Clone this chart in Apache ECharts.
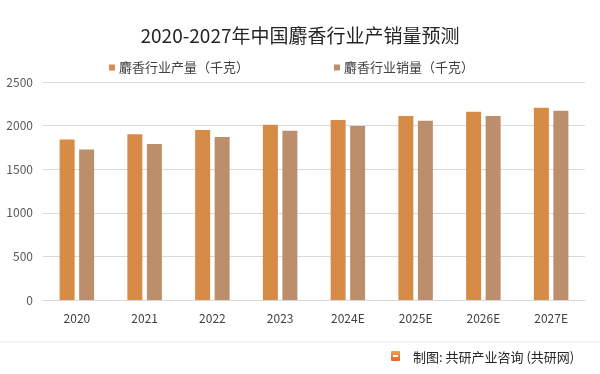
<!DOCTYPE html>
<html>
<head>
<meta charset="utf-8">
<script src="https://cdn.jsdelivr.net/npm/echarts@6/dist/echarts.min.js"></script>
<style>
html,body{margin:0;padding:0;background:#fff;}
#c{width:600px;height:374px;}
</style>
</head>
<body>
<div id="c"></div>
<script>
const categories = ['2020','2021','2022','2023','2024E','2025E','2026E','2027E'];
const production = [1840, 1900, 1950, 2010, 2065, 2110, 2160, 2205];
const sales = [1725, 1790, 1870, 1940, 1995, 2055, 2110, 2170];
const yTicks = [0, 500, 1000, 1500, 2000, 2500];
const seriesNames = ['麝香行业产量（千克）', '麝香行业销量（千克）'];

const font = "'Microsoft YaHei','Noto Sans CJK SC',sans-serif";
const chart = echarts.init(document.getElementById('c'), null, {renderer: 'canvas'});
chart.setOption({
  backgroundColor: '#ffffff',
  animation: false,
  title: {
    text: '2020-2027年中国麝香行业产销量预测',
    left: 'center',
    top: 21,
    textStyle: {fontSize: 19, fontWeight: 'normal', color: '#262626', fontFamily: font}
  },
  legend: {
    left: 104,
    top: 56,
    itemWidth: 6,
    itemHeight: 6,
    itemGap: 85,
    icon: 'rect',
    textStyle: {fontSize: 13, color: '#404040', fontFamily: font, padding: [0,0,0,-1]},
    data: seriesNames
  },
  grid: {left: 43, right: 15, top: 82, bottom: 74, containLabel: false},
  xAxis: {
    type: 'category',
    data: categories,
    axisLine: {lineStyle: {color: '#d9d9d9'}},
    axisTick: {show: false},
    axisLabel: {fontSize: 12, color: '#404040', margin: 12, fontFamily: font}
  },
  yAxis: {
    type: 'value',
    min: yTicks[0],
    max: yTicks[yTicks.length - 1],
    interval: yTicks[1] - yTicks[0],
    axisLine: {show: false},
    axisTick: {show: false},
    axisLabel: {fontSize: 12, color: '#595959', margin: 10, fontFamily: font, formatter: v => String(v)},
    splitLine: {lineStyle: {color: '#d9d9d9'}}
  },
  series: [
    {name: seriesNames[0], type: 'bar', data: production, barWidth: 15, barGap: '30%', itemStyle: {color: '#D68B47'}},
    {name: seriesNames[1], type: 'bar', data: sales, barWidth: 15, itemStyle: {color: '#BC8E6C'}}
  ],
  graphic: [
    {type: 'line', shape: {x1: 0, y1: 342, x2: 600, y2: 342}, style: {stroke: '#ececec', lineWidth: 1}},
    {type: 'rect', shape: {x: 391, y: 351, width: 9, height: 10, r: 1}, style: {fill: {type: 'linear', x: 0, y: 0, x2: 0, y2: 1, colorStops: [{offset: 0, color: '#F0A050'}, {offset: 1, color: '#E8602C'}]}}},
    {type: 'rect', shape: {x: 393, y: 355, width: 5, height: 2}, style: {fill: '#ffffff'}},
    {type: 'text', x: 413, y: 357, style: {text: '制图: 共研产业咨询 (共研网)', fontSize: 13, fill: '#262626', fontFamily: font, verticalAlign: 'middle'}}
  ]
});
</script>
</body>
</html>
